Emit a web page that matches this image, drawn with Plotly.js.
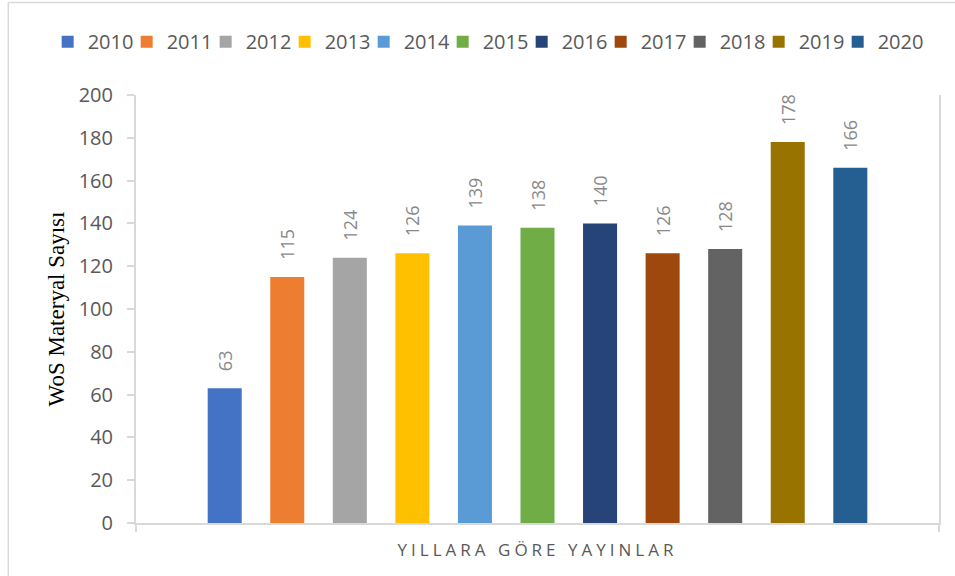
<!DOCTYPE html>
<html>
<head>
<meta charset="utf-8">
<script src="https://cdn.plot.ly/plotly-3.0.1.min.js"></script>
<style>html,body{margin:0;padding:0;background:#fff;}#chart{width:955px;height:576px;}</style>
</head>
<body>
<div id="chart"></div>
<script>
const years = ['2010','2011','2012','2013','2014','2015','2016','2017','2018','2019','2020'];
const counts = [63, 115, 124, 126, 139, 138, 140, 126, 128, 178, 166];
const colors = ['#4472C4','#ED7D31','#A5A5A5','#FFC000','#5B9BD5','#70AD47','#264478','#9E480E','#636363','#997300','#255E91'];
const category = ['YILLARA GÖRE YAYINLAR'];
const yTitle = 'WoS Materyal Sayısı';

const traces = years.map((yr, i) => ({
  type: 'bar',
  name: yr,
  x: category,
  y: [counts[i]],
  marker: {color: colors[i]},
  texttemplate: '\u00a0\u00a0\u00a0%{y}',
  textposition: 'outside',
  textangle: -90,
  constraintext: 'none',
  textfont: {family: 'Open Sans', size: 18, color: '#898989'},
  cliponaxis: false,
  hoverinfo: 'skip'
}));

// invisible spacer title: only widens the legend box so the last entry is not clipped
const legendSpacer = '\u00a0'.repeat(900);

const layout = {
  width: 955, height: 576,
  margin: {l: 136, r: 16, t: 95, b: 53, autoexpand: false},
  paper_bgcolor: '#fff', plot_bgcolor: '#fff',
  font: {family: 'Open Sans', color: '#595959'},
  barmode: 'group',
  bargap: 0.143,
  bargroupgap: 0.456,
  showlegend: true,
  legend: {
    orientation: 'h', xref: 'paper', yref: 'paper',
    x: -0.11, xanchor: 'left', y: 1.1823, yanchor: 'top',
    font: {family: 'Open Sans', size: 20, color: '#595959'},
    entrywidth: 34, itemwidth: 30, traceorder: 'normal',
    title: {text: legendSpacer, side: 'top', font: {family: 'Open Sans', size: 4, color: 'rgba(0,0,0,0)'}}
  },
  xaxis: {
    type: 'category', range: [-0.5, 0.5],
    showticklabels: false, showgrid: false,
    showline: true, linecolor: '#d9d9d9', linewidth: 2,
    ticks: 'outside', tickson: 'boundaries', ticklen: 7, tickcolor: '#d9d9d9', tickwidth: 2,
    title: {text: '<span style="letter-spacing:4px">YILLARA GÖRE YAYINLAR</span>', font: {family: 'Open Sans', size: 17, color: '#595959'}, standoff: 20}
  },
  yaxis: {
    range: [0, 200], dtick: 20, tick0: 0,
    showgrid: false, zeroline: false,
    showline: true, mirror: true, linecolor: '#d9d9d9', linewidth: 2,
    ticks: 'outside', ticklen: 7, tickcolor: '#d9d9d9', tickwidth: 2,
    ticklabelstandoff: 10,
    tickfont: {family: 'Open Sans', size: 20, color: '#595959'},
    title: {text: yTitle, font: {family: 'Liberation Serif', size: 23, color: '#000'}, standoff: 8}
  },
  shapes: [
    {type: 'line', xref: 'paper', yref: 'paper', x0: -0.159, x1: -0.159, y0: -0.2, y1: 1.216, line: {color: '#d9d9d9', width: 1.5}},
    {type: 'line', xref: 'paper', yref: 'paper', x0: -0.159, x1: 1.05, y0: 1.216, y1: 1.216, line: {color: '#d9d9d9', width: 1.5}}
  ]
};

Plotly.newPlot('chart', traces, layout, {displayModeBar: false, staticPlot: true});
</script>
</body>
</html>
